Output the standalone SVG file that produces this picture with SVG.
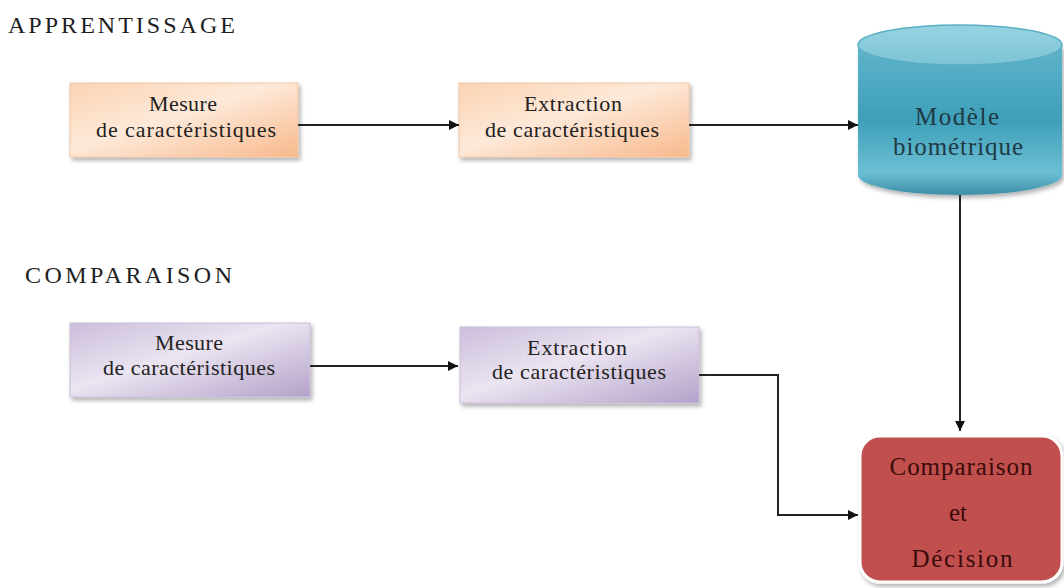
<svg xmlns="http://www.w3.org/2000/svg" width="1064" height="588" viewBox="0 0 1064 588">
  <defs>
    <linearGradient id="gOrange" x1="0" y1="0" x2="1" y2="1">
      <stop offset="0" stop-color="#fbd3b3"/>
      <stop offset="0.45" stop-color="#fde9d9"/>
      <stop offset="1" stop-color="#f8b98c"/>
    </linearGradient>
    <linearGradient id="gPurple" x1="0" y1="0" x2="1" y2="1">
      <stop offset="0" stop-color="#cbbedb"/>
      <stop offset="0.45" stop-color="#ebe4f1"/>
      <stop offset="1" stop-color="#b3a1c9"/>
    </linearGradient>
    <linearGradient id="gCylBody" x1="0" y1="0" x2="0" y2="1">
      <stop offset="0" stop-color="#5fb4cb"/>
      <stop offset="0.5" stop-color="#3e9fb9"/>
      <stop offset="0.85" stop-color="#6cbfd3"/>
      <stop offset="1" stop-color="#3d8ea6"/>
    </linearGradient>
    <linearGradient id="gCylTop" x1="0" y1="0" x2="0" y2="1">
      <stop offset="0" stop-color="#97d3e1"/>
      <stop offset="1" stop-color="#7cc4d6"/>
    </linearGradient>
    <filter id="shadow" x="-10%" y="-10%" width="125%" height="130%">
      <feDropShadow dx="2" dy="3" stdDeviation="2" flood-color="#000" flood-opacity="0.3"/>
    </filter>
    <marker id="arrow" viewBox="0 0 10 10" refX="10" refY="5" markerWidth="10" markerHeight="10" markerUnits="userSpaceOnUse" orient="auto">
      <path d="M0,0 L10,5 L0,10 Z" fill="#111"/>
    </marker>
  </defs>
  <style>
    .title { font-size: 24px; fill: #1e1e1e; }
    .label { font-size: 22px; fill: #222; text-anchor: middle; }
    .big { font-size: 25px; text-anchor: middle; }
    .wire { fill: none; stroke: #222; stroke-width: 2; }
  </style>

  <rect width="1064" height="588" fill="#ffffff"/>

  <g font-family="'Liberation Serif', 'Times New Roman', serif">
  <text class="title" x="8" y="33" textLength="227" lengthAdjust="spacing">APPRENTISSAGE</text>
  <text class="title" x="25" y="283" textLength="207" lengthAdjust="spacing">COMPARAISON</text>

  <!-- Learning row -->
  <g id="mesure-app">
    <rect x="70" y="83" width="228" height="74" fill="url(#gOrange)" stroke="#f2c6a4" stroke-width="1" filter="url(#shadow)"/>
    <text class="label" x="183" y="111" textLength="68" lengthAdjust="spacing">Mesure</text>
    <text class="label" x="186" y="137" textLength="180" lengthAdjust="spacing">de caractéristiques</text>
  </g>
  <g id="extraction-app">
    <rect x="459" y="83" width="230" height="74" fill="url(#gOrange)" stroke="#f2c6a4" stroke-width="1" filter="url(#shadow)"/>
    <text class="label" x="573" y="111" textLength="98" lengthAdjust="spacing">Extraction</text>
    <text class="label" x="572" y="137" textLength="174" lengthAdjust="spacing">de caractéristiques</text>
  </g>
  <g id="modele">
    <path d="M858,45 L858,175 A102,20 0 0 0 1062,175 L1062,45 Z" fill="url(#gCylBody)" filter="url(#shadow)"/>
    <ellipse cx="960" cy="45" rx="102" ry="20" fill="url(#gCylTop)" stroke="#5aaec4" stroke-width="1.5"/>
    <text class="big" x="957" y="125" fill="#1f3a44" textLength="84" lengthAdjust="spacing">Modèle</text>
    <text class="big" x="958" y="155" fill="#1f3a44" textLength="130" lengthAdjust="spacing">biométrique</text>
  </g>

  <!-- Comparison row -->
  <g id="mesure-cmp">
    <rect x="70" y="323" width="240" height="74" fill="url(#gPurple)" stroke="#c9bdd8" stroke-width="1" filter="url(#shadow)"/>
    <text class="label" x="189" y="350" textLength="68" lengthAdjust="spacing">Mesure</text>
    <text class="label" x="189" y="375" textLength="172" lengthAdjust="spacing">de caractéristiques</text>
  </g>
  <g id="extraction-cmp">
    <rect x="460" y="327" width="239" height="76" fill="url(#gPurple)" stroke="#c9bdd8" stroke-width="1" filter="url(#shadow)"/>
    <text class="label" x="577" y="355" textLength="100" lengthAdjust="spacing">Extraction</text>
    <text class="label" x="579" y="379" textLength="174" lengthAdjust="spacing">de caractéristiques</text>
  </g>
  <g id="decision">
    <rect x="860" y="436" width="202" height="146" rx="20" ry="20" fill="#c0504d" stroke="#ffffff" stroke-width="3" filter="url(#shadow)"/>
    <text class="big" x="961" y="475" fill="#3a0b0b" textLength="143" lengthAdjust="spacing">Comparaison</text>
    <text class="big" x="958" y="521" fill="#3a0b0b">et</text>
    <text class="big" x="962" y="567" fill="#3a0b0b" textLength="101" lengthAdjust="spacing">Décision</text>
  </g>
  </g>

  <!-- Connectors -->
  <g id="connectors">
    <path class="wire" d="M298,125 L459,125" marker-end="url(#arrow)"/>
    <path class="wire" d="M689,125 L858,125" marker-end="url(#arrow)"/>
    <path class="wire" d="M960,195 L960,431" stroke="#666" marker-end="url(#arrow)"/>
    <path class="wire" d="M310,366 L458,366" marker-end="url(#arrow)"/>
    <path class="wire" d="M699,375 L778,375 L778,515 L858,515" marker-end="url(#arrow)"/>
  </g>
</svg>
